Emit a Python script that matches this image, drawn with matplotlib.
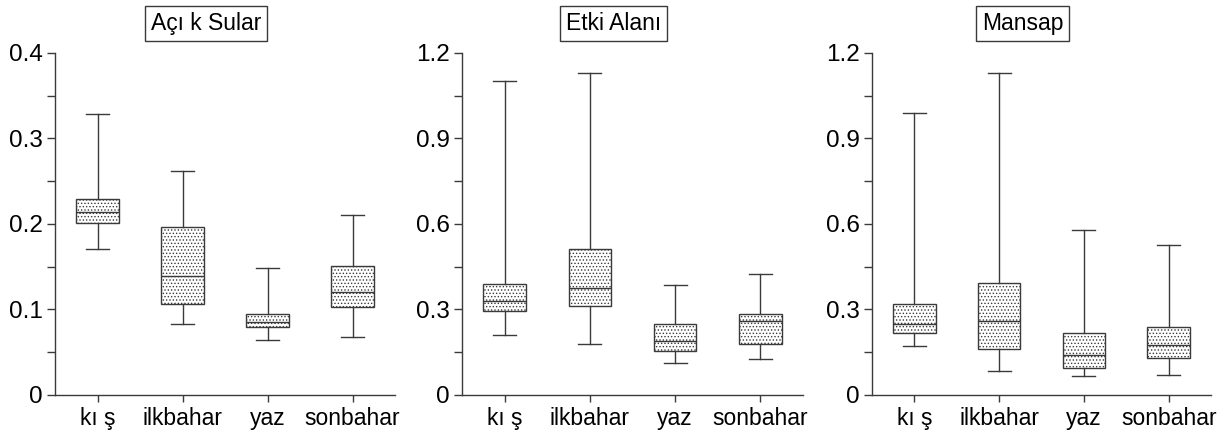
import matplotlib
matplotlib.use("Agg")
import matplotlib.pyplot as plt
from matplotlib.ticker import MultipleLocator

plt.rcParams['font.family'] = ['Liberation Sans', 'DejaVu Sans']
plt.rcParams['hatch.linewidth'] = 0.6

seasons = ["kı ş", "ilkbahar", "yaz", "sonbahar"]
titles = ["Açı k Sular", "Etki Alanı", "Mansap"]

# Box statistics per region: whisker low, Q1, median, Q3, whisker high
acik_low = [0.171, 0.083, 0.064, 0.068]
acik_q1 = [0.201, 0.106, 0.080, 0.103]
acik_med = [0.214, 0.139, 0.085, 0.120]
acik_q3 = [0.229, 0.196, 0.095, 0.151]
acik_high = [0.329, 0.262, 0.149, 0.211]

etki_low = [0.212, 0.178, 0.113, 0.125]
etki_q1 = [0.293, 0.313, 0.155, 0.180]
etki_med = [0.330, 0.377, 0.190, 0.261]
etki_q3 = [0.390, 0.512, 0.249, 0.283]
etki_high = [1.101, 1.131, 0.386, 0.424]

mansap_low = [0.173, 0.084, 0.065, 0.070]
mansap_q1 = [0.219, 0.161, 0.094, 0.131]
mansap_med = [0.249, 0.261, 0.139, 0.174]
mansap_q3 = [0.321, 0.394, 0.216, 0.240]
mansap_high = [0.991, 1.131, 0.580, 0.525]

regions = [
    (acik_low, acik_q1, acik_med, acik_q3, acik_high),
    (etki_low, etki_q1, etki_med, etki_q3, etki_high),
    (mansap_low, mansap_q1, mansap_med, mansap_q3, mansap_high),
]
y_tops = [0.4, 1.2, 1.2]
y_major = [0.1, 0.3, 0.3]

line_col = "#3a3a3a"

fig = plt.figure(figsize=(12.31, 4.33), dpi=100)
lefts = [0.0447, 0.3753, 0.7084]
widths = [0.2762, 0.2770, 0.2754]

for i, (stats_cols, title) in enumerate(zip(regions, titles)):
    ax = fig.add_axes([lefts[i], 0.0878, widths[i], 0.7898])
    low, q1, med, q3, high = stats_cols
    stats = []
    for j, name in enumerate(seasons):
        stats.append(dict(label=name, whislo=low[j], q1=q1[j], med=med[j],
                          q3=q3[j], whishi=high[j], fliers=[]))
    bp = ax.bxp(stats, positions=[1, 2, 3, 4], widths=0.5, capwidths=0.27,
                showfliers=False, patch_artist=True,
                boxprops=dict(facecolor="white", edgecolor=line_col, linewidth=1.0),
                whiskerprops=dict(color=line_col, linewidth=1.0),
                capprops=dict(color=line_col, linewidth=1.0),
                medianprops=dict(color=line_col, linewidth=1.0))
    for box in bp['boxes']:
        box.set_hatch('.....')

    ax.set_xlim(0.5, 4.5)
    ax.set_ylim(0, y_tops[i])
    ax.yaxis.set_major_locator(MultipleLocator(y_major[i]))
    ax.yaxis.set_minor_locator(MultipleLocator(y_major[i] / 2))
    ax.yaxis.set_major_formatter(plt.FuncFormatter(lambda v, p: "0" if abs(v) < 1e-9 else f"{v:.1f}"))

    for side in ("top", "right"):
        ax.spines[side].set_visible(False)
    for side in ("left", "bottom"):
        ax.spines[side].set_color(line_col)
        ax.spines[side].set_linewidth(1.0)

    ax.tick_params(axis="y", which="both", direction="out", length=6, width=1.0,
                   color=line_col, labelsize=17.5, pad=3)
    ax.tick_params(axis="x", direction="out", length=5, width=1.0,
                   color=line_col, labelsize=16.5, pad=4)
    ax.set_xticks([1, 2, 3, 4])
    ax.set_xticklabels(seasons)

    ax.text(0.444, 1.086, title, transform=ax.transAxes, fontsize=16.5,
            ha="center", va="center",
            bbox=dict(boxstyle="square,pad=0.26", facecolor="white",
                      edgecolor=line_col, linewidth=1.0))

fig.savefig("out.png", dpi=100)
